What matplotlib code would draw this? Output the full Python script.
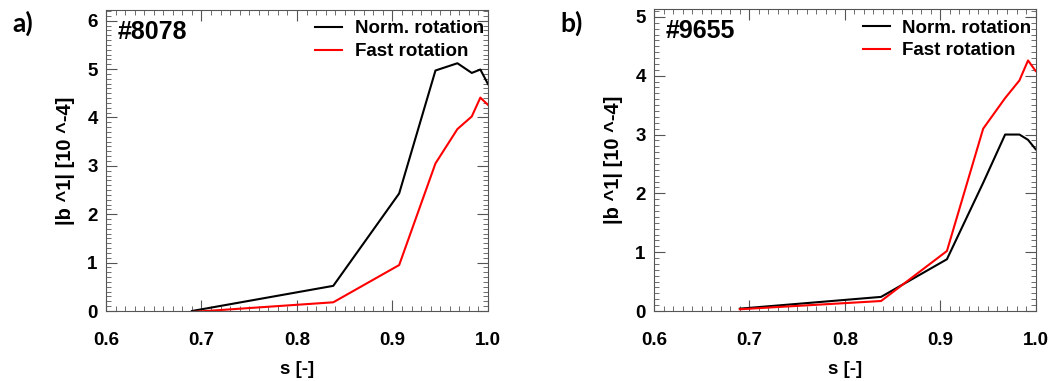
import matplotlib
matplotlib.use("Agg")
import matplotlib.pyplot as plt
from matplotlib.ticker import MultipleLocator

# radial grid (normalised flux s)
s = [0.69, 0.838, 0.907, 0.945, 0.968, 0.983, 0.992, 1.0]

# shot #8078
a_norm = [0.0, 0.52, 2.43, 4.97, 5.12, 4.92, 4.99, 4.69]
a_fast = [-0.02, 0.18, 0.95, 3.05, 3.76, 4.02, 4.41, 4.26]

# shot #9655
b_norm = [0.04, 0.24, 0.88, 2.18, 3.0, 3.0, 2.91, 2.75]
b_fast = [0.03, 0.17, 1.02, 3.10, 3.62, 3.92, 4.26, 4.08]

panels = [
    ("a)", "#8078", a_norm, a_fast, 6.22, [0.0998, 0.1837, 0.3597, 0.79]),
    ("b)", "#9655", b_norm, b_fast, 5.13, [0.6158, 0.1837, 0.3594, 0.792]),
]

plt.rcParams['font.family'] = ['Liberation Sans', 'DejaVu Sans']
plt.rcParams['font.weight'] = 'bold'

fig = plt.figure(figsize=(10.62, 3.81), dpi=100)

for tag, shot, norm, fast, ytop, pos in panels:
    ax = fig.add_axes(pos)
    ax.plot(s, norm, color='black', lw=1.5, label='Norm. rotation')
    ax.plot(s, fast, color='red', lw=1.5, label='Fast rotation')
    ax.set_xlim(0.6, 1.0)
    ax.set_ylim(0, ytop)
    ax.xaxis.set_major_locator(MultipleLocator(0.1))
    ax.xaxis.set_minor_locator(MultipleLocator(0.01))
    ax.yaxis.set_major_locator(MultipleLocator(1))
    ax.yaxis.set_minor_locator(MultipleLocator(0.1))
    ax.tick_params(which='both', direction='in', top=True, right=True,
                   color='#555555', labelsize=13.5)
    ax.tick_params(which='major', length=8, width=0.8, pad=6)
    ax.tick_params(which='minor', length=3.5, width=0.6)
    ax.tick_params(axis='x', which='major', pad=15)
    for sp in ax.spines.values():
        sp.set_color('#555555')
        sp.set_linewidth(0.8)
    ax.set_xlabel('s [-]', fontsize=13.5, fontweight='bold', labelpad=9)
    ax.set_ylabel('|b ^1| [10 ^-4]', fontsize=14.5, fontweight='bold', labelpad=9)
    ax.text(0.03, 0.928, shot, transform=ax.transAxes, fontsize=18,
            fontweight='bold', va='center', ha='left')
    ax.legend(loc='upper right', bbox_to_anchor=(1.016, 1.0), frameon=False,
              handlelength=1.45, handletextpad=0.65, borderaxespad=0.45,
              borderpad=0.1, labelspacing=0.3, prop={'weight': 'bold', 'size': 13.5})
    fig.text(pos[0] - 0.088, 0.94, tag, fontsize=19, fontweight='bold',
             family=['Lato', 'DejaVu Sans'], va='center', ha='left')

fig.savefig('out.png', dpi=100)
